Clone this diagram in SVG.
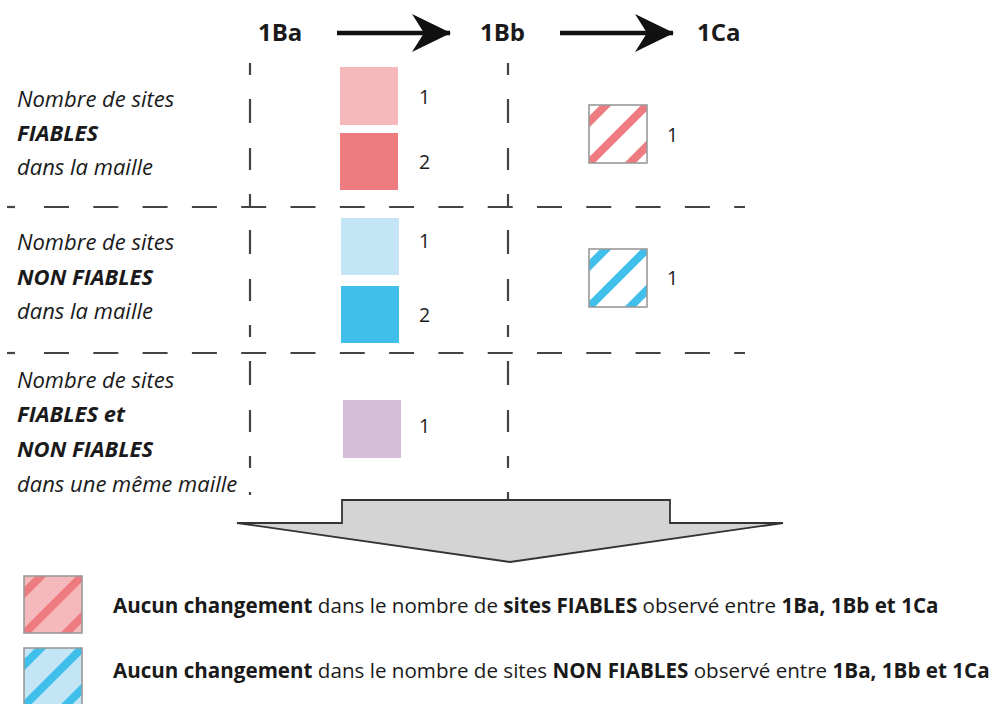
<svg xmlns="http://www.w3.org/2000/svg" width="995" height="704" viewBox="0 0 995 704">
<style>
.lbl{font-family:"Open Sans","Liberation Sans",sans-serif;font-size:22px;font-style:italic;fill:#1a1a1a}
.b{font-weight:bold}
.num{font-family:"Open Sans","Liberation Sans",sans-serif;font-size:19.5px;fill:#1a1a1a}
.hdr{font-family:"Open Sans","Liberation Sans",sans-serif;font-size:24px;font-weight:bold;fill:#1a1a1a}
.leg{font-family:"Open Sans","Liberation Sans",sans-serif;font-size:20.6px;fill:#1a1a1a}
.grid{stroke:#444;stroke-width:2.2;fill:none}
.stripeR{stroke:#ee7b7f;stroke-width:8}
.stripeB{stroke:#3fbfea;stroke-width:8}
.hbox{stroke:#999;stroke-width:1.6}
</style>
<defs>
<pattern id="hatchR" patternUnits="objectBoundingBox" x="0" y="0" width="1" height="1">
<path class="stripeR" d="M-10,27 L27,-10 M-10,68 L68,-10 M31,68 L68,31"/>
</pattern>
<pattern id="hatchB" patternUnits="objectBoundingBox" x="0" y="0" width="1" height="1">
<path class="stripeB" d="M-10,27 L27,-10 M-10,68 L68,-10 M31,68 L68,31"/>
</pattern>
<marker id="ah" viewBox="0 0 40 40" refX="38" refY="20" markerWidth="40" markerHeight="40" markerUnits="userSpaceOnUse" orient="auto">
<path d="M0,1 L39,20 L0,39 L12,20 Z" fill="#111"/>
</marker>
</defs>

<g id="headers">
<text class="hdr" x="258" y="41">1Ba</text>
<text class="hdr" x="480" y="41">1Bb</text>
<text class="hdr" x="697" y="41">1Ca</text>
</g>

<g id="connectors">
<line x1="337" y1="33" x2="450" y2="33" stroke="#111" stroke-width="4.5" marker-end="url(#ah)"/>
<line x1="560" y1="33" x2="673" y2="33" stroke="#111" stroke-width="4.5" marker-end="url(#ah)"/>
</g>

<g id="grid">
<line class="grid" x1="250" y1="63" x2="250" y2="495" stroke-dasharray="12 24 24 25 22 24" />
<line class="grid" x1="508" y1="63" x2="508" y2="502" stroke-dasharray="12 24 24 25 22 24"/>
<line class="grid" x1="7" y1="207" x2="15" y2="207"/>
<line class="grid" x1="44" y1="207" x2="745" y2="207" stroke-dasharray="25 24.3"/>
<line class="grid" x1="7" y1="353" x2="15" y2="353"/>
<line class="grid" x1="44" y1="353" x2="745" y2="353" stroke-dasharray="25 24.3"/>
</g>

<g id="row1-label">
<text class="lbl" x="17" y="107">Nombre de sites</text>
<text class="lbl b" x="17" y="141">FIABLES</text>
<text class="lbl" x="17" y="175">dans la maille</text>
</g>
<g id="row2-label">
<text class="lbl" x="17" y="250">Nombre de sites</text>
<text class="lbl b" x="17" y="285">NON FIABLES</text>
<text class="lbl" x="17" y="319">dans la maille</text>
</g>
<g id="row3-label">
<text class="lbl" x="17" y="388">Nombre de sites</text>
<text class="lbl b" x="17" y="422">FIABLES et</text>
<text class="lbl b" x="17" y="457">NON FIABLES</text>
<text class="lbl" x="17" y="492">dans une même maille</text>
</g>

<g id="fiables-1">
<rect x="340" y="67" width="58" height="58" fill="#f5b9bb"/>
<text class="num" x="419" y="104">1</text>
</g>
<g id="fiables-2">
<rect x="340" y="133" width="58" height="57" fill="#ee7b7f"/>
<text class="num" x="419" y="169">2</text>
</g>
<g id="nonfiables-1">
<rect x="341" y="218" width="58" height="57" fill="#c4e5f5"/>
<text class="num" x="419" y="248">1</text>
</g>
<g id="nonfiables-2">
<rect x="341" y="286" width="58" height="57" fill="#3fbfea"/>
<text class="num" x="419" y="322">2</text>
</g>
<g id="mixte-1">
<rect x="343" y="400" width="58" height="58" fill="#d6bdd9"/>
<text class="num" x="419" y="433">1</text>
</g>
<g id="fiables-1Ca">
<rect x="589" y="105" width="58" height="58" fill="#fff"/>
<rect class="hbox" x="589" y="105" width="58" height="58" fill="url(#hatchR)"/>
<text class="num" x="667" y="142">1</text>
</g>
<g id="nonfiables-1Ca">
<rect x="589" y="249" width="58" height="58" fill="#fff"/>
<rect class="hbox" x="589" y="249" width="58" height="58" fill="url(#hatchB)"/>
<text class="num" x="667" y="285">1</text>
</g>

<g id="big-arrow">
<path d="M237,523 L342,523 L342,500 L670,500 L670,523 L783,523 L510,562 Z" fill="#d4d4d4" stroke="#333" stroke-width="1.8" stroke-linejoin="miter"/>
</g>

<g id="legend-fiables">
<rect x="24" y="576" width="58" height="57" fill="#f5b9bb"/>
<rect class="hbox" x="24" y="576" width="58" height="57" fill="url(#hatchR)"/>
<text class="leg" x="113" y="613"><tspan class="b">Aucun changement</tspan> dans le nombre de <tspan class="b">sites FIABLES</tspan> observé entre <tspan class="b">1Ba, 1Bb et 1Ca</tspan></text>
</g>
<g id="legend-nonfiables">
<rect x="24" y="648" width="58" height="57" fill="#c4e5f5"/>
<rect class="hbox" x="24" y="648" width="58" height="57" fill="url(#hatchB)"/>
<text class="leg" x="113" y="678"><tspan class="b">Aucun changement</tspan> dans le nombre de sites <tspan class="b">NON FIABLES</tspan> observé entre <tspan class="b">1Ba, 1Bb et 1Ca</tspan></text>
</g>
</svg>
